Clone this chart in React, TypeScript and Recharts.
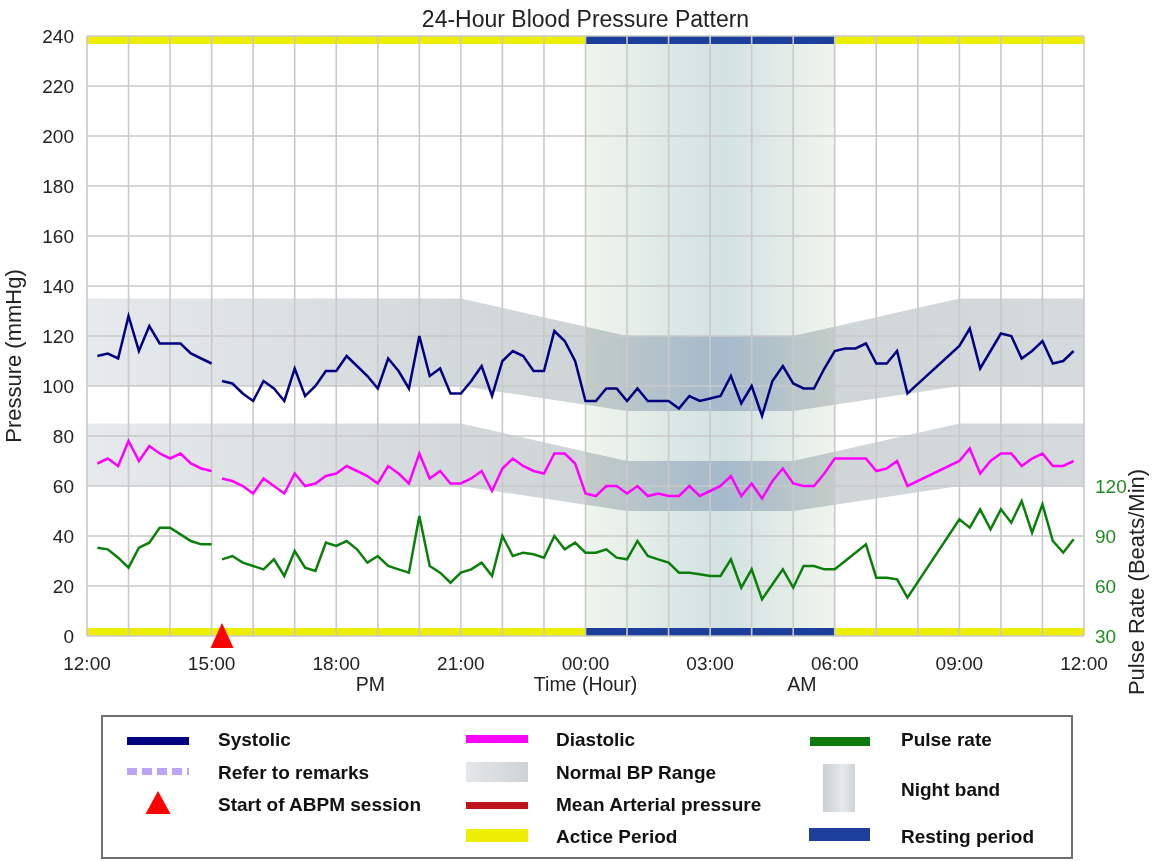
import React from 'react';
import {
  ComposedChart,
  Line,
  Area,
  XAxis,
  YAxis,
  CartesianGrid,
  ReferenceArea,
  ReferenceDot,
} from 'recharts';

const FONT = '"Liberation Sans", Arial, Helvetica, sans-serif';

// readings in plot order: 12:15-15:00 is the tail of the session, wrapped onto the start of the axis
const readingTimes = [
  '12:15', '12:30', '12:45', '13:00', '13:15', '13:30', '13:45', '14:00', '14:15', '14:30', '14:45', '15:00',
  '15:15', '15:30', '15:45',
  '16:00', '16:15', '16:30', '16:45', '17:00', '17:15', '17:30', '17:45',
  '18:00', '18:15', '18:30', '18:45', '19:00', '19:15', '19:30', '19:45',
  '20:00', '20:15', '20:30', '20:45', '21:00', '21:15', '21:30', '21:45',
  '22:00', '22:15', '22:30', '22:45', '23:00', '23:15', '23:30', '23:45',
  '00:00', '00:15', '00:30', '00:45', '01:00', '01:15', '01:30', '01:45',
  '02:00', '02:15', '02:30', '02:45', '03:00', '03:15', '03:30', '03:45',
  '04:00', '04:15', '04:30', '04:45', '05:00', '05:15', '05:30', '05:45',
  '06:00', '06:15', '06:30', '06:45', '07:00', '07:15', '07:30', '07:45',
  '09:00', '09:15', '09:30', '09:45', '10:00', '10:15', '10:30', '10:45',
  '11:00', '11:15', '11:30', '11:45',
];

const systolic = [
  112, 113, 111, 128, 114, 124, 117, 117, 117, 113, 111, 109,
  102, 101, 97,
  94, 102, 99, 94, 107, 96, 100, 106,
  106, 112, 108, 104, 99, 111, 106, 99,
  120, 104, 107, 97, 97, 102, 108, 96,
  110, 114, 112, 106, 106, 122, 118, 110,
  94, 94, 99, 99, 94, 99, 94, 94,
  94, 91, 96, 94, 95, 96, 104, 93,
  100, 88, 102, 108, 101, 99, 99, 107,
  114, 115, 115, 117, 109, 109, 114, 97,
  116, 123, 107, 114, 121, 120, 111, 114,
  118, 109, 110, 114,
];

const diastolic = [
  69, 71, 68, 78, 70, 76, 73, 71, 73, 69, 67, 66,
  63, 62, 60,
  57, 63, 60, 57, 65, 60, 61, 64,
  65, 68, 66, 64, 61, 68, 65, 61,
  73, 63, 66, 61, 61, 63, 66, 58,
  67, 71, 68, 66, 65, 73, 73, 69,
  57, 56, 60, 60, 57, 60, 56, 57,
  56, 56, 60, 56, 58, 60, 64, 56,
  61, 55, 62, 67, 61, 60, 60, 65,
  71, 71, 71, 71, 66, 67, 70, 60,
  70, 75, 65, 70, 73, 73, 68, 71,
  73, 68, 68, 70,
];

const pulseRate = [
  83, 82, 77, 71, 83, 86, 95, 95, 91, 87, 85, 85,
  76, 78, 74,
  72, 70, 76, 66, 81, 71, 69, 86,
  84, 87, 82, 74, 78, 72, 70, 68,
  102, 72, 68, 62, 68, 70, 74, 66,
  90, 78, 80, 79, 77, 90, 82, 86,
  80, 80, 82, 77, 76, 87, 78, 76,
  74, 68, 68, 67, 66, 66, 76, 59,
  70, 52, 61, 70, 59, 72, 72, 70,
  70, 75, 80, 85, 65, 65, 64, 53,
  100, 95, 106, 94, 106, 98, 111, 92,
  109, 87, 80, 88,
];

const sessionStart = '15:15';

// normal BP range: day limits, easing to night limits and back
const bandTimes = ['12:00', '21:00', '01:00', '05:00', '09:00', '12:00'];
const sysLow = [100, 100, 90, 90, 100, 100];
const sysHigh = [135, 135, 120, 120, 135, 135];
const diaLow = [60, 60, 50, 50, 60, 60];
const diaHigh = [85, 85, 70, 70, 85, 85];

const nightBand = ['00:00', '06:00'];
const activePeriods = [['12:00', '00:00'], ['06:00', '12:00']];
const restingPeriods = [['00:00', '06:00']];

const hourLabels = ['12:00', '15:00', '18:00', '21:00', '00:00', '03:00', '06:00', '09:00', '12:00'];
const axisNotes = [
  { at: '18:00', text: 'PM' },
  { at: '00:00', text: 'Time (Hour)' },
  { at: '06:00', text: 'AM' },
];
const pressureTicks = [0, 20, 40, 60, 80, 100, 120, 140, 160, 180, 200, 220, 240];
const pulseTicks = [30, 60, 90, 120];

const toHour = (t: string) => {
  const [hh, mm] = t.split(':').map(Number);
  return ((hh + 12) % 24) + mm / 60;
};

// hours for a list that keeps running forward (so a closing 12:00 lands on 24)
const forward = (list: string[]) => {
  let prev = -1;
  return list.map(t => {
    let h = toHour(t);
    if (h < prev) h += 24;
    prev = h;
    return h;
  });
};

const sessionHour = toHour(sessionStart);

const rows: any[] = readingTimes.map((t, i) => ({
  h: toHour(t),
  sys: systolic[i],
  dia: diastolic[i],
  pulse: pulseRate[i],
}));
// gap in the traces where the session begins
rows.splice(readingTimes.indexOf(sessionStart), 0, { h: sessionHour - 0.1, sys: null, dia: null, pulse: null });

const bandHours = forward(bandTimes);
const sysBand = bandHours.map((h, i) => ({ h, range: [sysLow[i], sysHigh[i]] }));
const diaBand = bandHours.map((h, i) => ({ h, range: [diaLow[i], diaHigh[i]] }));

const nightHours = forward(nightBand);
const hourTicks = Array.from({ length: 25 }, (_, i) => i);

const BAR = 3.2; // thickness of the period strips, in mmHg units
const NOTE_DX: Record<string, number> = { PM: 34, 'Time (Hour)': 0, AM: -33 };

function TimeTick({ x, y, payload }: any) {
  const h = payload?.value;
  if (h % 3 !== 0) return <g />;
  const note = axisNotes.find(n => toHour(n.at) === h);
  return (
    <g fontFamily={FONT} fill="#222">
      <text x={x} y={y} dy={13.7} textAnchor="middle" fontSize={19}>
        {hourLabels[h / 3]}
      </text>
      {note && (
        <text x={x + NOTE_DX[note.text]} y={y} dy={35} textAnchor="middle" fontSize={19.5}>
          {note.text}
        </text>
      )}
    </g>
  );
}

const leftTitle = (props: any) => {
  const vb = props.viewBox || {};
  const x = (vb.x ?? 0) + 21;
  const y = (vb.y ?? 36) + 320;
  return (
    <text x={x} y={y} transform={`rotate(-90 ${x} ${y})`} textAnchor="middle" fontSize={22} fill="#222" fontFamily={FONT}>
      Pressure (mmHg)
    </text>
  );
};

const rightTitle = (props: any) => {
  const vb = props.viewBox || {};
  const x = (vb.x ?? 1084) + 59.5;
  const y = (vb.y ?? 36) + 546;
  return (
    <text x={x} y={y} transform={`rotate(-90 ${x} ${y})`} textAnchor="middle" fontSize={22} fill="#222" fontFamily={FONT}>
      Pulse Rate (Beats/Min)
    </text>
  );
};

const triangle = (p: any) => (
  <path d={`M${p.cx},${p.cy - 13} L${p.cx + 11.5},${p.cy + 12} L${p.cx - 11.5},${p.cy + 12} Z`} fill="#ff0000" />
);

function LegendBox() {
  const txt = (x: number, y: number, s: string) => (
    <text x={x} y={y} fontSize={19} fontWeight="bold" fill="#111" fontFamily={FONT}>
      {s}
    </text>
  );
  return (
    <g>
      <defs>
        <linearGradient id="lgBand" x1="0" y1="0" x2="1" y2="0">
          <stop offset="0" stopColor="#e4e8eb" />
          <stop offset="1" stopColor="#cdd2d6" />
        </linearGradient>
        <linearGradient id="lgNight" x1="0" y1="0" x2="1" y2="0">
          <stop offset="0" stopColor="#c9ced2" />
          <stop offset="0.6" stopColor="#e6e9ec" />
          <stop offset="1" stopColor="#cfd4d7" />
        </linearGradient>
      </defs>
      <rect x={102} y={716} width={970} height={142} fill="#fff" stroke="#6f6f6f" strokeWidth={2} />

      <rect x={127} y={737} width={62} height={8} fill="#000080" />
      {txt(218, 746.3, 'Systolic')}
      <line x1={127} y1={771.5} x2={189} y2={771.5} stroke="#bca4f6" strokeWidth={7} strokeDasharray="10 5" />
      {txt(218, 778.8, 'Refer to remarks')}
      <path d="M158,791 L170.5,814 L145.5,814 Z" fill="#ff0000" />
      {txt(218, 811.3, 'Start of ABPM session')}

      <rect x={466} y={735} width={62} height={8} fill="#ff00ff" />
      {txt(556, 746.3, 'Diastolic')}
      <rect x={466} y={762} width={62} height={20} fill="url(#lgBand)" />
      {txt(556, 778.8, 'Normal BP Range')}
      <rect x={466} y={802} width={62} height={7} fill="#c0141c" />
      {txt(556, 811.3, 'Mean Arterial pressure')}
      <rect x={466} y={829} width={62} height={13} fill="#eeee00" />
      {txt(556, 843.3, 'Actice Period')}

      <rect x={810} y={737} width={60} height={9} fill="#107a10" />
      {txt(901, 746.3, 'Pulse rate')}
      <rect x={823} y={764} width={32} height={48} fill="url(#lgNight)" />
      {txt(901, 795.8, 'Night band')}
      <rect x={809} y={828} width={61} height={13} fill="#1c3f9c" />
      {txt(901, 843.3, 'Resting period')}
    </g>
  );
}

export default function App() {
  const strips: React.ReactNode[] = [];
  activePeriods.forEach((p, i) => {
    const [a, b] = forward(p);
    strips.push(
      <ReferenceArea key={`at${i}`} yAxisId="bp" x1={a} x2={b} y1={240 - BAR} y2={240} fill="#eeee00" fillOpacity={1} stroke="none" zIndex={-200} />,
      <ReferenceArea key={`ab${i}`} yAxisId="bp" x1={a} x2={b} y1={0} y2={BAR} fill="#eeee00" fillOpacity={1} stroke="none" zIndex={-200} />,
    );
  });
  restingPeriods.forEach((p, i) => {
    const [a, b] = forward(p);
    strips.push(
      <ReferenceArea key={`rt${i}`} yAxisId="bp" x1={a} x2={b} y1={240 - BAR} y2={240} fill="#1c3f9c" fillOpacity={1} stroke="none" zIndex={-200} />,
      <ReferenceArea key={`rb${i}`} yAxisId="bp" x1={a} x2={b} y1={0} y2={BAR} fill="#1c3f9c" fillOpacity={1} stroke="none" zIndex={-200} />,
    );
  });

  return (
    <div style={{ position: 'absolute', left: 0, top: 0, width: 1152, height: 861, background: '#fff', overflow: 'hidden' }}>
      <style>{`.bp-band { mix-blend-mode: multiply; }`}</style>
      <svg width={1152} height={861} style={{ position: 'absolute', left: 0, top: 0 }}>
        <text x={585.5} y={27} textAnchor="middle" fontSize={23} fill="#222" fontFamily={FONT}>
          24-Hour Blood Pressure Pattern
        </text>
        <LegendBox />
      </svg>
      <div style={{ position: 'absolute', left: 0, top: 0 }}>
        <ComposedChart width={1152} height={700} data={rows} margin={{ top: 36, right: 0, bottom: 0, left: 0 }}>
          <defs>
            <linearGradient id="nightFill" x1="0" y1="0" x2="1" y2="0">
              <stop offset="0" stopColor="#eff5ec" />
              <stop offset="0.55" stopColor="#d2e1e2" />
              <stop offset="1" stopColor="#eff5ec" />
            </linearGradient>
            <linearGradient id="bandFill" x1="0" y1="0" x2="1" y2="0">
              <stop offset="0" stopColor="#e6eaed" />
              <stop offset="0.35" stopColor="#d4d9dc" />
              <stop offset="0.5" stopColor="#cfd4d7" />
              <stop offset="0.63" stopColor="#c8d2e6" />
              <stop offset="0.75" stopColor="#d0d5d8" />
              <stop offset="1" stopColor="#d5dadd" />
            </linearGradient>
          </defs>

          <XAxis
            type="number"
            dataKey="h"
            domain={[0, 24]}
            ticks={hourTicks}
            interval={0}
            allowDataOverflow
            tick={<TimeTick />}
            tickLine={false}
            axisLine={false}
            tickMargin={14}
            height={64}
          />
          <YAxis
            yAxisId="bp"
            domain={[0, 240]}
            ticks={pressureTicks}
            interval={0}
            width={87}
            tickLine={false}
            axisLine={false}
            tickMargin={7}
            tick={{ fill: '#222', fontSize: 19, fontFamily: FONT }}
            label={leftTitle}
          />
          <YAxis
            yAxisId="pulse"
            orientation="right"
            domain={[30, 390]}
            ticks={pulseTicks}
            interval={0}
            width={68}
            tickLine={false}
            axisLine={false}
            tickMargin={5}
            tick={{ fill: '#228b22', fontSize: 19, fontFamily: FONT, textAnchor: 'start' }}
            label={rightTitle}
          />

          <ReferenceArea
            yAxisId="bp"
            x1={nightHours[0]}
            x2={nightHours[1]}
            y1={0}
            y2={240}
            fill="url(#nightFill)"
            fillOpacity={1}
            stroke="none"
            zIndex={-300}
          />
          <Area
            className="bp-band"
            yAxisId="bp"
            data={sysBand}
            dataKey="range"
            type="linear"
            stroke="none"
            fill="url(#bandFill)"
            fillOpacity={1}
            dot={false}
            activeDot={false}
            isAnimationActive={false}
            zIndex={-250}
          />
          <Area
            className="bp-band"
            yAxisId="bp"
            data={diaBand}
            dataKey="range"
            type="linear"
            stroke="none"
            fill="url(#bandFill)"
            fillOpacity={1}
            dot={false}
            activeDot={false}
            isAnimationActive={false}
            zIndex={-250}
          />
          {strips}
          <CartesianGrid yAxisId="bp" stroke="#c9c9c9" strokeWidth={1.6} zIndex={-100} />

          <Line yAxisId="bp" dataKey="sys" type="linear" stroke="#000080" strokeWidth={2.5} dot={false} activeDot={false} isAnimationActive={false} />
          <Line yAxisId="bp" dataKey="dia" type="linear" stroke="#ff00ff" strokeWidth={2.5} dot={false} activeDot={false} isAnimationActive={false} />
          <Line yAxisId="pulse" dataKey="pulse" type="linear" stroke="#0a800a" strokeWidth={2.5} dot={false} activeDot={false} isAnimationActive={false} />

          <ReferenceDot yAxisId="bp" x={sessionHour} y={0} r={12} ifOverflow="visible" shape={triangle} />
        </ComposedChart>
      </div>
    </div>
  );
}
